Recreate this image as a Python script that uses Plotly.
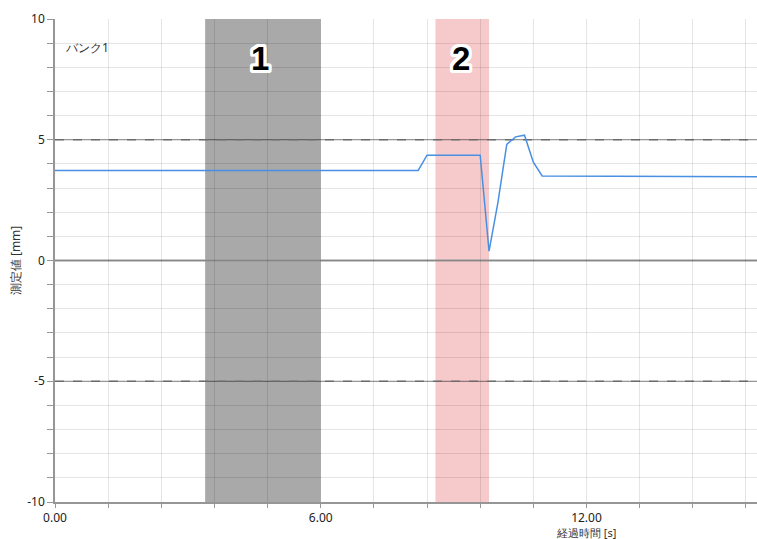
import plotly.graph_objects as go

# ---- data ----
time_s = [0.0, 3.0, 6.0, 8.2, 8.4, 9.6, 9.8, 10.0, 10.2, 10.4, 10.6, 10.8, 11.0, 13.0, 15.85]
value_mm = [3.73, 3.74, 3.74, 3.73, 4.36, 4.36, 0.39, 2.4, 4.81, 5.12, 5.19, 4.07, 3.50, 3.48, 3.47]

region_labels = ["1", "2"]
region_start = [3.39, 8.59]
region_end = [6.0, 9.80]
region_colors = ["rgb(169,169,169)", "rgb(246,202,203)"]

x_tick_vals = [round(1.2 * i, 2) for i in range(14)]
x_tick_text = ["0.00", "", "", "", "", "6.00", "", "", "", "", "12.00", "", "", ""]
y_tick_vals = list(range(-10, 11))
y_tick_text = [str(v) if v % 5 == 0 else "" for v in y_tick_vals]
limit_lines = [5, -5]

FONT = "Noto Sans, Open Sans, sans-serif"

fig = go.Figure()
fig.add_trace(go.Scatter(x=time_s, y=value_mm, mode="lines",
                         line=dict(color="rgb(74,144,226)", width=1.5),
                         hoverinfo="skip", showlegend=False))

shapes = []
for s, e, c in zip(region_start, region_end, region_colors):
    shapes.append(dict(type="rect", xref="x", yref="paper", x0=s, x1=e, y0=0, y1=1,
                       fillcolor=c, line=dict(width=0), layer="below"))
for yv in limit_lines:
    shapes.append(dict(type="line", xref="paper", yref="y", x0=0, x1=1, y0=yv, y1=yv,
                       line=dict(color="rgba(0,0,0,0.45)", width=1), layer="between"))
    shapes.append(dict(type="line", xref="paper", yref="y", x0=0, x1=1, y0=yv, y1=yv,
                       line=dict(color="rgb(120,120,120)", width=1.3, dash="dash"), layer="between"))
shapes.append(dict(type="line", xref="paper", yref="y", x0=0, x1=1, y0=0, y1=0,
                   line=dict(color="rgb(150,150,150)", width=2), layer="between"))

outline = ", ".join(f"{dx}px {dy}px 0 white" for dx in (-3, -2, 0, 2, 3) for dy in (-3, -2, 0, 2, 3)
                    if not (dx == 0 and dy == 0) and abs(dx) + abs(dy) <= 5)
annotations = []
label_x = [4.63, 9.17]
for lbl, lx in zip(region_labels, label_x):
    annotations.append(dict(x=lx, y=8.35, xref="x", yref="y", text="<b>" + lbl + "</b>",
                            showarrow=False,
                            font=dict(family="Arial, Liberation Sans, sans-serif", size=33, color="black",
                                      shadow=outline)))
annotations.append(dict(x=0.18, y=8.8, xref="x", yref="y", text="バンク1", showarrow=False,
                        xanchor="left", yanchor="middle",
                        font=dict(family=FONT, size=12, color="#333")))
annotations.append(dict(x=12, y=0, xref="x", yref="paper", yshift=-30, text="経過時間 [s]",
                        showarrow=False, xanchor="center", yanchor="middle",
                        font=dict(family=FONT, size=11, color="#333")))
annotations.append(dict(x=-0.056, y=0.5, xref="paper", yref="paper", text="測定値 [mm]",
                        showarrow=False, textangle=-90, xanchor="center", yanchor="middle",
                        font=dict(family=FONT, size=12, color="#333")))

fig.update_layout(
    width=757, height=539,
    margin=dict(l=55, r=0, t=19, b=37),
    paper_bgcolor="white", plot_bgcolor="white",
    shapes=shapes, annotations=annotations,
    xaxis=dict(range=[0, 15.85], tickmode="array", tickvals=x_tick_vals, ticktext=x_tick_text,
               showgrid=True, gridcolor="rgba(0,0,0,0.1)", gridwidth=1,
               zeroline=False, showline=True, linecolor="rgb(150,150,150)", linewidth=1.5,
               ticks="outside", ticklen=4, tickcolor="rgb(150,150,150)",
               tickfont=dict(family=FONT, size=12, color="#222"), fixedrange=True),
    yaxis=dict(range=[-10, 10], tickmode="array", tickvals=y_tick_vals, ticktext=y_tick_text,
               showgrid=True, gridcolor="rgba(0,0,0,0.1)", gridwidth=1,
               zeroline=False, showline=True, linecolor="rgb(150,150,150)", linewidth=1.5,
               ticks="outside", ticklen=6, tickcolor="rgb(150,150,150)",
               tickfont=dict(family=FONT, size=12, color="#222"), fixedrange=True),
)

fig.write_html("out.html", config={"displayModeBar": False},
               post_script="document.body.style.margin='0';document.body.style.padding='0';document.body.style.overflow='hidden';")
